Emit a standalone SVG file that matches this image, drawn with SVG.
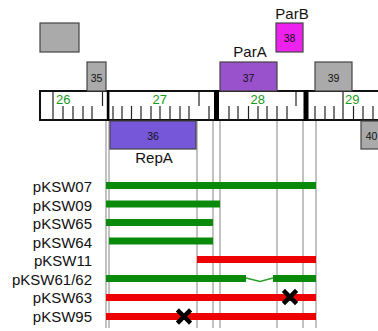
<svg xmlns="http://www.w3.org/2000/svg" width="378" height="331" viewBox="0 0 378 331">
<style>
.box{stroke:#444;stroke-width:1.2}
.gray{fill:#aaaaaa}
.num{font-family:"Liberation Sans",Arial,sans-serif;font-size:10.5px;fill:#111;text-anchor:middle}
.name{font-family:"Liberation Sans",Arial,sans-serif;font-size:15px;fill:#111;text-anchor:middle}
.lab{font-family:"Liberation Sans",Arial,sans-serif;font-size:15px;fill:#111;text-anchor:end}
.kb{font-family:"Liberation Sans",Arial,sans-serif;font-size:13px;fill:#1a9a1a}
.tick{stroke:#222;stroke-width:1.2}
.guide{stroke:#999;stroke-width:1.2}
.g{fill:#0a8a0a}
.r{fill:#ee0000}
.x{stroke:#000;stroke-width:4.5;stroke-linecap:square}
</style>
<rect width="378" height="331" fill="#fff"/>
<g id="connectors">
<line class="guide" x1="106" y1="120" x2="106" y2="328"/>
<line class="guide" x1="109" y1="120" x2="109" y2="328"/>
<line class="guide" x1="197" y1="120" x2="197" y2="328"/>
<line class="guide" x1="213" y1="120" x2="213" y2="328"/>
<line class="guide" x1="220" y1="120" x2="220" y2="328"/>
<line class="guide" x1="277" y1="120" x2="277" y2="328"/>
<line class="guide" x1="303" y1="120" x2="303" y2="328"/>
<line class="guide" x1="316" y1="120" x2="316" y2="328"/>
</g>
<g id="ruler">
<rect x="40" y="91" width="340" height="29" fill="#fff" stroke="#111" stroke-width="2"/>
<g class="tick">
<line x1="53" y1="91" x2="53" y2="120"/>
<line x1="63" y1="106" x2="63" y2="120"/>
<line x1="73" y1="106" x2="73" y2="120"/>
<line x1="83" y1="106" x2="83" y2="120"/>
<line x1="92" y1="106" x2="92" y2="120"/>
<line x1="102.5" y1="92" x2="102.5" y2="106"/>
<line x1="113" y1="106" x2="113" y2="120"/>
<line x1="122" y1="106" x2="122" y2="120"/>
<line x1="131.5" y1="106" x2="131.5" y2="120"/>
<line x1="141" y1="106" x2="141" y2="120"/>
<line x1="151" y1="106" x2="151" y2="120"/>
<line x1="160" y1="106" x2="160" y2="120"/>
<line x1="170" y1="106" x2="170" y2="120"/>
<line x1="180" y1="106" x2="180" y2="120"/>
<line x1="189" y1="106" x2="189" y2="120"/>
<line x1="199" y1="92" x2="199" y2="106"/>
<line x1="209" y1="106" x2="209" y2="120"/>
<line x1="229" y1="106" x2="229" y2="120"/>
<line x1="238" y1="106" x2="238" y2="120"/>
<line x1="248.5" y1="106" x2="248.5" y2="120"/>
<line x1="258" y1="106" x2="258" y2="120"/>
<line x1="267" y1="106" x2="267" y2="120"/>
<line x1="277" y1="106" x2="277" y2="120"/>
<line x1="287" y1="106" x2="287" y2="120"/>
<line x1="296" y1="92" x2="296" y2="106"/>
<line x1="315" y1="106" x2="315" y2="120"/>
<line x1="325" y1="106" x2="325" y2="120"/>
<line x1="334" y1="106" x2="334" y2="120"/>
<line x1="343" y1="91" x2="343" y2="120"/>
<line x1="353.5" y1="106" x2="353.5" y2="120"/>
<line x1="363" y1="106" x2="363" y2="120"/>
<line x1="373" y1="106" x2="373" y2="120"/>
</g>
<rect x="106.8" y="90" width="2.6" height="31" fill="#000"/>
<rect x="214" y="90" width="5" height="31" fill="#000"/>
<rect x="303.5" y="90" width="5" height="31" fill="#000"/>
<text class="kb" x="56" y="103.5">26</text>
<text class="kb" x="152.5" y="103.5">27</text>
<text class="kb" x="250.5" y="103.5">28</text>
<text class="kb" x="345" y="103.5">29</text>
</g>
<g id="box-top-left"><rect class="box gray" x="40" y="23" width="39" height="29"/></g>
<g id="gene35"><rect class="box gray" x="87" y="62" width="19" height="29"/><text class="num" x="96.5" y="81.5">35</text></g>
<g id="gene36"><rect class="box" fill="#7757d9" x="110" y="121" width="86" height="28"/><text class="num" x="153" y="139.5">36</text><text class="name" x="154" y="163">RepA</text></g>
<g id="gene37"><rect class="box" fill="#9a52cc" x="220" y="62" width="57" height="29"/><text class="num" x="248.5" y="81.5">37</text><text class="name" x="250" y="57">ParA</text></g>
<g id="gene38"><rect class="box" fill="#ee22ee" x="276" y="23" width="27" height="29"/><text class="num" x="289.5" y="42">38</text><text class="name" x="292" y="19">ParB</text></g>
<g id="gene39"><rect class="box gray" x="315" y="62" width="37" height="29"/><text class="num" x="333.5" y="81.5">39</text></g>
<g id="gene40"><rect class="box gray" x="361" y="121" width="22" height="28"/><text class="num" x="371.5" y="139.5">40</text></g>
<g id="pKSW07"><text class="lab" x="92" y="192">pKSW07</text><rect class="g" x="106" y="182" width="210" height="7"/></g>
<g id="pKSW09"><text class="lab" x="92" y="210.5">pKSW09</text><rect class="g" x="106" y="200.5" width="114" height="7"/></g>
<g id="pKSW65"><text class="lab" x="92" y="229">pKSW65</text><rect class="g" x="106" y="219" width="107" height="7"/></g>
<g id="pKSW64"><text class="lab" x="92" y="247.5">pKSW64</text><rect class="g" x="109" y="237.5" width="104" height="7"/></g>
<g id="pKSW11"><text class="lab" x="92" y="266">pKSW11</text><rect class="r" x="197" y="256" width="119" height="7"/></g>
<g id="pKSW61-62"><text class="lab" x="92" y="284.5">pKSW61/62</text><rect class="g" x="106" y="275" width="140" height="7"/><rect class="g" x="273" y="275" width="43" height="7"/><polyline points="246,278 260,281.5 273,278" fill="none" stroke="#2aa02a" stroke-width="1.3"/></g>
<g id="pKSW63"><text class="lab" x="92" y="303">pKSW63</text><rect class="r" x="106" y="294" width="210" height="7"/><path class="x" d="M285,292 L295,302 M295,292 L285,302"/></g>
<g id="pKSW95"><text class="lab" x="92" y="322">pKSW95</text><rect class="r" x="106" y="313" width="210" height="7"/><path class="x" d="M179,311.5 L189,321.5 M189,311.5 L179,321.5"/></g>
</svg>
